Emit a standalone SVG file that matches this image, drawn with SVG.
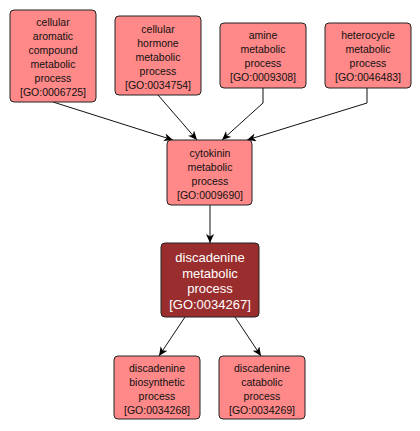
<svg xmlns="http://www.w3.org/2000/svg" width="420" height="431" viewBox="0 0 420 431">
<style>
.n rect{fill:#ff8888;stroke:#222;stroke-width:1}
.d rect{fill:#9a2e2e;stroke:#222;stroke-width:1}
text{font-family:"Liberation Sans",Arial,sans-serif;font-size:10.5px;text-anchor:middle;fill:#111}
.d text{font-size:13px;fill:#fff}
.e path{fill:none;stroke:#111;stroke-width:1;marker-end:url(#a)}
</style>
<defs>
<marker id="a" markerWidth="10" markerHeight="10" refX="9" refY="4" orient="auto" markerUnits="userSpaceOnUse">
<path d="M0,0 L9,4 L0,8 L2.5,4 z" fill="#000"/>
</marker>
</defs>
<rect width="420" height="431" fill="#fff"/>
<g class="e">
<path d="M53,102 L173,140"/>
<path d="M158,95 L197,140"/>
<path d="M263,88 L263,103 L222,140"/>
<path d="M367,88 L367,103 L247,140"/>
<path d="M210,205 L210,243"/>
<path d="M185,317 L159,356"/>
<path d="M235,317 L261,356"/>
</g>
<g id="GO_0006725" class="n"><rect x="10" y="10" width="86" height="92" rx="4"/>
<text x="53" y="26">cellular</text><text x="53" y="40">aromatic</text><text x="53" y="54">compound</text><text x="53" y="68">metabolic</text><text x="53" y="82">process</text><text x="53" y="96">[GO:0006725]</text></g>
<g id="GO_0034754" class="n"><rect x="115" y="16" width="86" height="79" rx="4"/>
<text x="158" y="33">cellular</text><text x="158" y="47">hormone</text><text x="158" y="61">metabolic</text><text x="158" y="75">process</text><text x="158" y="89">[GO:0034754]</text></g>
<g id="GO_0009308" class="n"><rect x="220" y="23" width="86" height="65" rx="4"/>
<text x="263" y="39">amine</text><text x="263" y="53">metabolic</text><text x="263" y="67">process</text><text x="263" y="81">[GO:0009308]</text></g>
<g id="GO_0046483" class="n"><rect x="325" y="23" width="86" height="65" rx="4"/>
<text x="368" y="39">heterocycle</text><text x="368" y="53">metabolic</text><text x="368" y="67">process</text><text x="368" y="81">[GO:0046483]</text></g>
<g id="GO_0009690" class="n"><rect x="167" y="140" width="85" height="65" rx="4"/>
<text x="210" y="157">cytokinin</text><text x="210" y="171">metabolic</text><text x="210" y="185">process</text><text x="210" y="199">[GO:0009690]</text></g>
<g id="GO_0034267" class="d"><rect x="161" y="243" width="98" height="74" rx="4"/>
<text x="210" y="262">discadenine</text><text x="210" y="278">metabolic</text><text x="210" y="293">process</text><text x="210" y="309">[GO:0034267]</text></g>
<g id="GO_0034268" class="n"><rect x="114" y="356" width="86" height="63" rx="4"/>
<text x="157" y="372">discadenine</text><text x="157" y="386">biosynthetic</text><text x="157" y="400">process</text><text x="157" y="414">[GO:0034268]</text></g>
<g id="GO_0034269" class="n"><rect x="219" y="356" width="86" height="63" rx="4"/>
<text x="262" y="372">discadenine</text><text x="262" y="386">catabolic</text><text x="262" y="400">process</text><text x="262" y="414">[GO:0034269]</text></g>
</svg>
